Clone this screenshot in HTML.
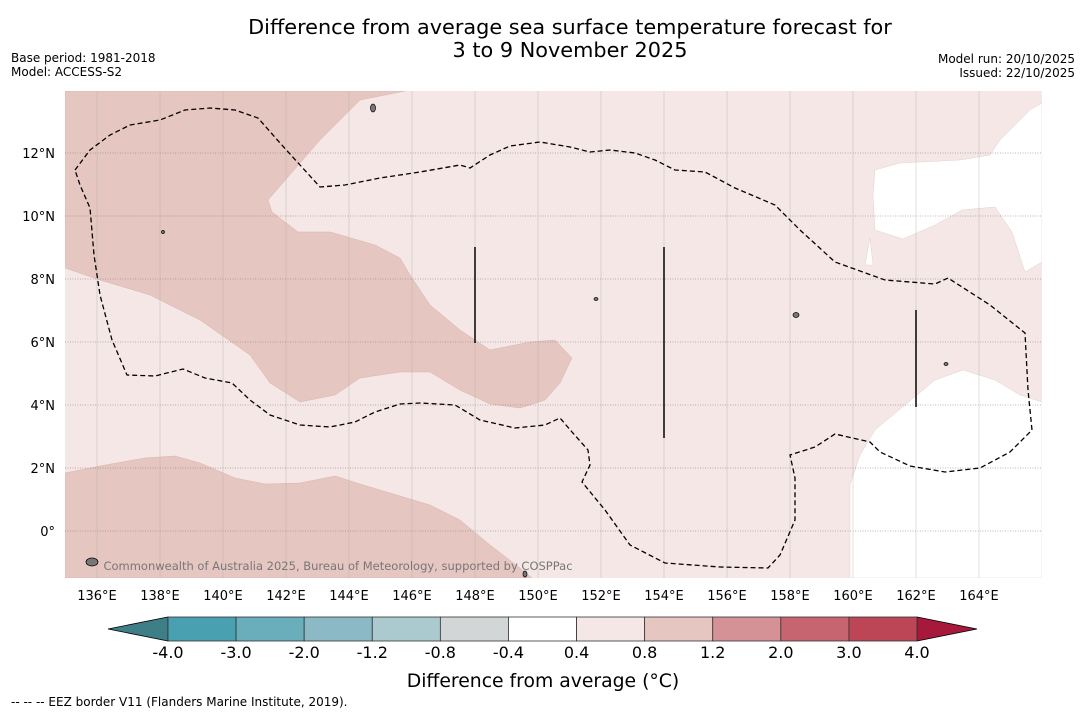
<!DOCTYPE html>
<html><head><meta charset="utf-8"><style>
body{margin:0;background:#fff;width:1085px;height:713px;overflow:hidden;font-family:"Liberation Sans","DejaVu Sans",sans-serif}
svg{position:absolute;left:0;top:0}
</style></head><body>
<svg id="s" width="1085" height="713" xmlns="http://www.w3.org/2000/svg">
<text x="570" y="34" font-size="20.8" text-anchor="middle" font-family="DejaVu Sans">Difference from average sea surface temperature forecast for</text>
<text x="570" y="57" font-size="20.8" text-anchor="middle" font-family="DejaVu Sans">3 to 9 November 2025</text>
<text x="11" y="62" font-size="12" font-family="DejaVu Sans">Base period: 1981-2018</text>
<text x="11" y="76" font-size="12" font-family="DejaVu Sans">Model: ACCESS-S2</text>
<text x="1075" y="63" font-size="12" text-anchor="end" font-family="DejaVu Sans">Model run: 20/10/2025</text>
<text x="1075" y="77" font-size="12" text-anchor="end" font-family="DejaVu Sans">Issued: 22/10/2025</text>
<g id="map"></g>
<g id="cbar"></g>
<text x="543" y="687" font-size="18.8" text-anchor="middle" font-family="DejaVu Sans">Difference from average (°C)</text>
<text x="11" y="706" font-size="12" font-family="DejaVu Sans">--  --  -- EEZ border V11 (Flanders Marine Institute, 2019).</text>
</svg>
<script>
const lonTicks=[136,138,140,142,144,146,148,150,152,154,156,158,160,162,164];
const latTicks=[0,2,4,6,8,10,12];
const levels=["-4.0","-3.0","-2.0","-1.2","-0.8","-0.4","0.4","0.8","1.2","2.0","3.0","4.0"];
const levelColors=["#49a0b0","#6aaebb","#8bb9c5","#aacacf","#d3d6d6","#ffffff","#f4e7e5","#e6c6c1","#d49196","#c6646f","#bc4656"];
const extLow="#3e7f87", extHigh="#a7193b";
const NS="http://www.w3.org/2000/svg";
const X0=65,X1=1042,Y0=91,Y1=578;
const lonX=l=>65.5+(l-135)*31.5, latY=l=>531-l*31.5;
const map=document.getElementById('map');
function mk(t,a,p){const e=document.createElementNS(NS,t);for(const k in a)e.setAttribute(k,a[k]);(p||map).appendChild(e);return e;}
const defs=mk('defs',{});const cp=mk('clipPath',{id:'c'},defs);mk('rect',{x:X0,y:Y0,width:X1-X0,height:Y1-Y0},cp);
const g=mk('g',{'clip-path':'url(#c)'});
let bg=mk('rect',{x:X0,y:Y0,width:X1-X0,height:Y1-Y0,fill:'#f4e7e5'},g);

const pts=a=>a.map(p=>p.join(',')).join(' ');
const dark1=[[65,91],[405,91],[360,100],[320,140],[268,200],[272,212],[298,232],[330,232],[375,245],[400,258],[410,275],[430,305],[460,330],[490,350],[530,342],[555,340],[572,358],[560,383],[545,400],[520,408],[490,404],[460,390],[430,372],[400,372],[360,378],[335,395],[300,402],[270,383],[250,355],[200,320],[150,295],[100,280],[65,268]];
const dark2=[[65,473],[100,466],[145,458],[175,456],[200,463],[235,478],[265,484],[300,483],[335,476],[360,484],[400,496],[430,505],[460,520],[490,545],[520,568],[532,578],[65,578]];
const w1=[[875,170],[900,163],[960,160],[990,155],[1000,140],[1030,110],[1042,103],[1042,262],[1025,272],[1012,232],[995,207],[962,210],[935,225],[903,239],[875,230],[873,195]];
const w2=[[865,265],[870,238],[873,265]];
const w3=[[850,578],[850,485],[860,455],[875,430],[905,405],[935,380],[963,370],[995,380],[1020,395],[1042,402],[1042,578]];
let e;
e=mk('polygon',{points:pts(dark1),fill:'#e6c6c1',stroke:'#d9b3ae','stroke-width':0.5},g);
e=mk('polygon',{points:pts(dark2),fill:'#e6c6c1',stroke:'#d9b3ae','stroke-width':0.5},g);
[w1,w2,w3].forEach((w,i)=>{e=mk('polygon',{points:pts(w),fill:'#ffffff',stroke:'#e6d0cd','stroke-width':0.5},g);});
lonTicks.forEach(l=>{e=mk('line',{x1:lonX(l),x2:lonX(l),y1:Y0,y2:Y1,stroke:'#aaa','stroke-width':0.5,opacity:0.7},g);});
latTicks.forEach(l=>{e=mk('line',{x1:X0,x2:X1,y1:latY(l),y2:latY(l),stroke:'#777','stroke-width':0.6,'stroke-dasharray':'1,1.5'},g);});
const eez=[[75,170],[90,150],[110,135],[130,125],[160,120],[185,110],[210,108],[235,110],[258,118],[280,143],[300,165],[320,187],[345,185],[380,178],[420,172],[460,165],[470,168],[490,155],[510,146],[540,142],[570,147],[590,152],[610,150],[635,153],[655,160],[675,170],[705,172],[735,188],[775,205],[800,230],[835,262],[885,280],[935,284],[948,278],[990,305],[1025,333],[1028,390],[1032,430],[1010,452],[980,468],[945,472],[910,466],[880,452],[870,442],[835,434],[815,447],[790,455],[795,478],[795,520],[780,555],[768,568],[720,567],[665,563],[630,545],[605,510],[582,482],[590,465],[588,450],[572,432],[560,418],[545,425],[515,428],[480,420],[455,405],[420,403],[400,404],[375,412],[355,422],[330,427],[300,425],[270,415],[250,400],[232,383],[205,378],[183,369],[155,376],[127,375],[112,340],[100,295],[94,255],[90,208],[80,185]];
e=mk('polygon',{points:pts(eez),fill:'none',stroke:'#000','stroke-width':1.3,'stroke-dasharray':'5,3'},g);
[[475,247,343],[664,247,438],[916,310,407]].forEach(v=>{e=mk('line',{x1:v[0],x2:v[0],y1:v[1],y2:v[2],stroke:'#111','stroke-width':1.6},g);});
[[373,108,2.5,4],[796,315,3,2.5],[92,562,6,4],[163,232,1.5,1.5],[596,299,2,1.5],[946,364,2,1.5],[525,574,2,3]].forEach(p=>{e=mk('ellipse',{cx:p[0],cy:p[1],rx:p[2],ry:p[3],fill:'#777',stroke:'#000','stroke-width':0.7},g);});
e=mk('text',{x:338,y:570,'font-size':11.5,'text-anchor':'middle',fill:'#777','font-family':'DejaVu Sans'},g);e.textContent='Commonwealth of Australia 2025, Bureau of Meteorology, supported by COSPPac';
lonTicks.forEach(l=>{e=mk('text',{x:lonX(l),y:600,'font-size':13,'text-anchor':'middle','font-family':'DejaVu Sans'});e.textContent=l+'°E';});
latTicks.forEach(l=>{e=mk('text',{x:55,y:latY(l)+5,'font-size':13,'text-anchor':'end','font-family':'DejaVu Sans'});e.textContent=l===0?'0°':l+'°N';});
const cb=document.getElementById('cbar');
const cx0=168,cx1=917,cy0=617,cy1=641,n=levelColors.length,sw=(cx1-cx0)/n;
e=mk('polygon',{points:`108,629 ${cx0},${cy0} ${cx0},${cy1}`,fill:extLow,stroke:'#000','stroke-width':0.8},cb);
e=mk('polygon',{points:`977,629 ${cx1},${cy0} ${cx1},${cy1}`,fill:extHigh,stroke:'#000','stroke-width':0.8},cb);
levelColors.forEach((c,i)=>{e=mk('rect',{x:cx0+i*sw,y:cy0,width:sw,height:cy1-cy0,fill:c,stroke:'#333','stroke-width':0.8},cb);});
levels.forEach((t,i)=>{e=mk('text',{x:cx0+i*sw,y:658,'font-size':16,'text-anchor':'middle','font-family':'DejaVu Sans'},cb);e.textContent=t;});
</script>
</body></html>
